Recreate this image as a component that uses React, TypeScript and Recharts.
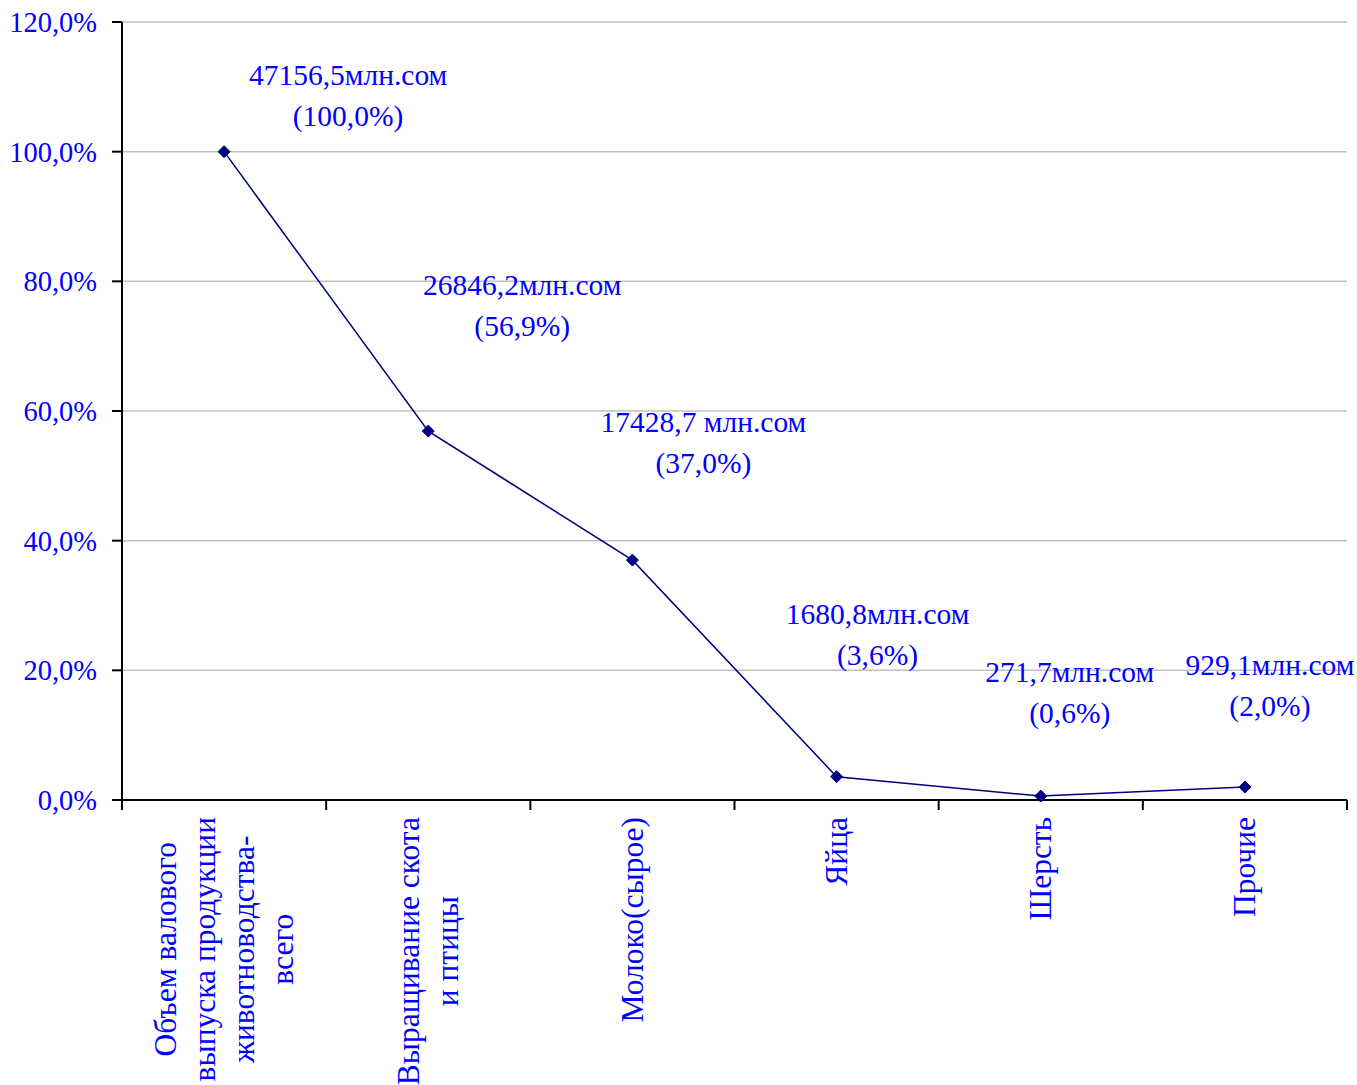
import React from 'react';
import { LineChart, Line, XAxis, YAxis, CartesianGrid, LabelList } from 'recharts';

// Категории (переносы строк как в оригинале)
const categories = [
  'Объем валового\nвыпуска продукции\nживотноводства-\nвсего',
  'Выращивание скота\nи птицы',
  'Молоко(сырое)',
  'Яйца',
  'Шерсть',
  'Прочие',
];
const shares = [100.0, 56.9, 37.0, 3.6, 0.6, 2.0];
const amounts = ['47156,5млн.сом', '26846,2млн.сом', '17428,7 млн.сом', '1680,8млн.сом', '271,7млн.сом', '929,1млн.сом'];
const yTicks = [0, 20, 40, 60, 80, 100, 120];

// ручное размещение подписей (смещение от точки), как в Excel
const labelOffsets = [
  [124, -77],
  [94, -146],
  [71, -138],
  [41, -163],
  [29, -124],
  [25, -122],
];

const data = categories.map((name, i) => ({ name, value: shares[i], amount: amounts[i] }));

const W = 1357;
const H = 1085;
const LEFT = 122;
const RIGHT = 10;
const BAND = (W - LEFT - RIGHT) / categories.length;
const FONT = '"Liberation Serif", "Times New Roman", serif';
const BLUE = '#0000ff';
const NAVY = '#000080';
const CAT_SIZE = 31.5;

const pct = (v: number) => v.toFixed(1).replace('.', ',') + '%';

let ctx: CanvasRenderingContext2D | null = null;
const measure = (s: string) => {
  if (!ctx) ctx = document.createElement('canvas').getContext('2d');
  if (!ctx) return s.length * 15;
  ctx.font = `${CAT_SIZE}px ${FONT}`;
  return ctx.measureText(s).width;
};

const CategoryTick = (props: any) => {
  const { x, y, payload, index } = props;
  const lines = String(payload.value).split('\n');
  const longest = Math.max(...lines.map(measure));
  const cy = y + 17 + longest / 2;
  const last = index === categories.length - 1;
  return (
    <g>
      <line x1={x - BAND / 2} y1={y} x2={x - BAND / 2} y2={y + 10} stroke="#000" strokeWidth={2} />
      {last && <line x1={x + BAND / 2} y1={y} x2={x + BAND / 2} y2={y + 10} stroke="#000" strokeWidth={2} />}
      <text transform={`translate(${x},${cy}) rotate(-90)`} textAnchor="middle" fill={BLUE} fontSize={CAT_SIZE} fontFamily={FONT}>
        {lines.map((l, i) => (
          <tspan key={i} x={0} y={(i - (lines.length - 1) / 2) * 39} dominantBaseline="central">
            {l}
          </tspan>
        ))}
      </text>
    </g>
  );
};

const Diamond = (props: any) => {
  const { cx, cy } = props;
  if (cx == null || cy == null) return null;
  const r = 6;
  return <polygon points={`${cx},${cy - r} ${cx + r},${cy} ${cx},${cy + r} ${cx - r},${cy}`} fill={NAVY} stroke={NAVY} />;
};

const PointLabel = (props: any) => {
  const { x, y, index, value } = props;
  const [dx, dy] = labelOffsets[index];
  const cx = x + dx;
  const cy = y + dy;
  return (
    <text textAnchor="middle" fill={BLUE} fontSize={29.5} fontFamily={FONT}>
      <tspan x={cx} y={cy} dominantBaseline="central">{amounts[index]}</tspan>
      <tspan x={cx} y={cy + 41} dominantBaseline="central">({pct(value)})</tspan>
    </text>
  );
};

export default function App() {
  return (
    <div style={{ position: 'absolute', left: 0, top: 0, background: '#fff', fontFamily: FONT }}>
      <LineChart width={W} height={H} data={data} margin={{ top: 22, right: RIGHT, bottom: 0, left: 0 }}>
        <CartesianGrid vertical={false} stroke="#c0c0c0" strokeWidth={1.5} />
        <XAxis
          dataKey="name"
          scale="band"
          height={H - 800}
          interval={0}
          axisLine={{ stroke: '#000', strokeWidth: 2 }}
          tickLine={false}
          tickSize={0}
          tickMargin={0}
          tick={<CategoryTick />}
        />
        <YAxis
          width={LEFT}
          domain={[0, 120]}
          ticks={yTicks}
          interval={0}
          tickFormatter={pct}
          axisLine={{ stroke: '#000', strokeWidth: 2 }}
          tickLine={{ stroke: '#000', strokeWidth: 2 }}
          tickSize={10}
          tickMargin={15}
          tick={{ fill: BLUE, fontSize: 28.5, fontFamily: FONT }}
        />
        <Line
          type="linear"
          dataKey="value"
          stroke={NAVY}
          strokeWidth={1.5}
          dot={<Diamond />}
          activeDot={false}
          isAnimationActive={false}
        >
          <LabelList dataKey="value" content={<PointLabel />} />
        </Line>
      </LineChart>
    </div>
  );
}
